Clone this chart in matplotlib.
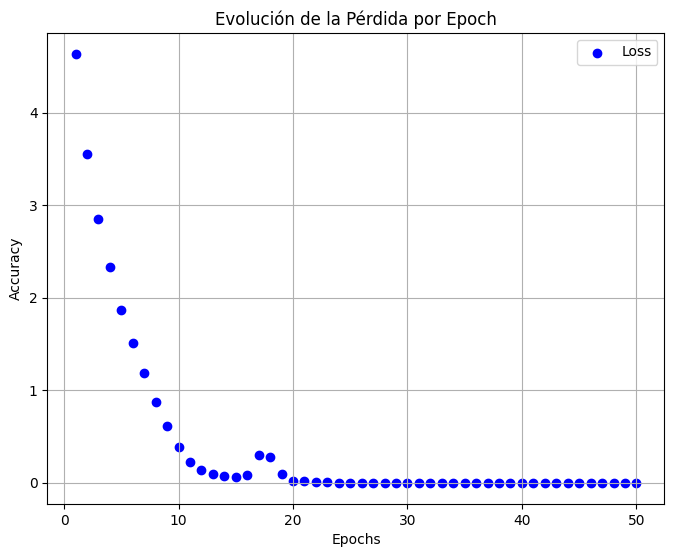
import matplotlib
matplotlib.use("Agg")
import matplotlib.pyplot as plt

epochs = list(range(1, 51))
loss = [4.63, 3.55, 2.85, 2.33, 1.87, 1.51, 1.19, 0.87, 0.61, 0.39,
        0.23, 0.14, 0.10, 0.07, 0.06, 0.09, 0.30, 0.28, 0.10, 0.02,
        0.015, 0.01, 0.005, 0.003, 0.002] + [0.001] * 25

fig, ax = plt.subplots(figsize=(6.78, 5.48), dpi=100)
ax.scatter(epochs, loss, color='blue', label='Loss')
ax.set_title('Evolución de la Pérdida por Epoch')
ax.set_xlabel('Epochs')
ax.set_ylabel('Accuracy')
ax.legend()
ax.grid(True)
fig.subplots_adjust(left=0.07, right=0.98, top=0.94, bottom=0.08)
fig.savefig('out.png')
